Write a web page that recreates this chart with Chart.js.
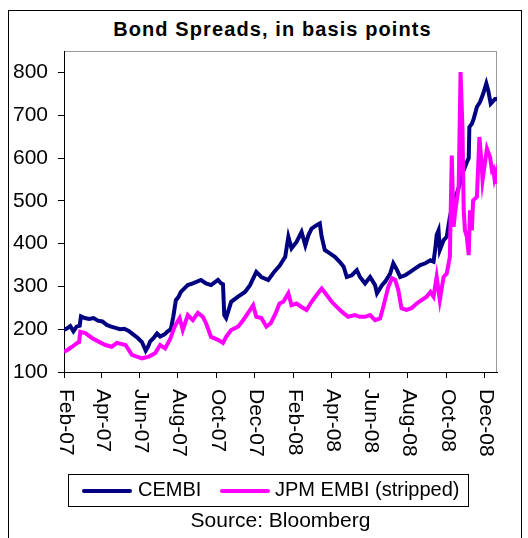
<!DOCTYPE html>
<html>
<head>
<meta charset="utf-8">
<title>Bond Spreads, in basis points</title>
<script src="https://cdn.jsdelivr.net/npm/chart.js@4.4.1/dist/chart.umd.min.js"></script>
<style>
  html, body { margin: 0; padding: 0; background: #fff; }
  body { width: 528px; height: 538px; position: relative; overflow: hidden;
         font-family: "Liberation Sans", Arial, sans-serif; color: #000; }
  #frame { position: absolute; left: 8px; top: 10px; width: 514px; height: 600px;
           border: 1px solid #000; box-sizing: border-box; }
  #chart { position: absolute; left: 0; top: 0; }
  .txt { position: absolute; white-space: nowrap; line-height: 1; }
  #title { left: 0; width: 545px; top: 19px; text-align: center; font-weight: bold;
           font-size: 20px; letter-spacing: 1.1px; }
  #legend { position: absolute; left: 68px; top: 474px; width: 401px; height: 33px;
            border: 1px solid #000; box-sizing: border-box; background: #fff; }
  .swatch { position: absolute; height: 4px; width: 50px; top: 14px; border-radius: 2px; }
  .legtxt { font-size: 20px; top: 4px; }
  #source { left: 0; width: 561px; top: 509px; text-align: center; font-size: 21px; }
</style>
</head>
<body>
<div id="frame"></div>
<div id="title" class="txt">Bond Spreads, in basis points</div>
<canvas id="chart" width="528" height="538"></canvas>
<div id="legend">
  <div class="swatch" style="left:13px;background:#000080"></div>
  <div class="txt legtxt" style="left:69px">CEMBI</div>
  <div class="swatch" style="left:151px;background:#ff00ff"></div>
  <div class="txt legtxt" style="left:206px">JPM EMBI (stripped)</div>
</div>
<div id="source" class="txt">Source: Bloomberg</div>

<script>
/* ================================
   DATA
================================ */
const seriesNames = ["CEMBI", "JPM EMBI (stripped)"];

const cembiDates = [
  "2007-02-01","2007-02-06","2007-02-11","2007-02-16","2007-02-21","2007-02-26","2007-02-28",
  "2007-03-06","2007-03-13","2007-03-20","2007-03-27","2007-04-03","2007-04-10","2007-04-17",
  "2007-04-24","2007-05-01","2007-05-08","2007-05-15","2007-05-22","2007-05-29","2007-06-05",
  "2007-06-11","2007-06-15","2007-06-18","2007-06-24","2007-06-29","2007-07-04","2007-07-11",
  "2007-07-16","2007-07-21","2007-07-25","2007-07-29","2007-08-02","2007-08-06","2007-08-12",
  "2007-08-17","2007-08-25","2007-09-07","2007-09-15","2007-09-23","2007-10-04","2007-10-09",
  "2007-10-12","2007-10-14","2007-10-17","2007-10-25","2007-11-05","2007-11-16","2007-11-24",
  "2007-12-04","2007-12-12","2007-12-23","2008-01-02","2008-01-10","2008-01-19","2008-01-24",
  "2008-01-29","2008-02-06","2008-02-14","2008-02-20","2008-02-25","2008-03-01","2008-03-09",
  "2008-03-14","2008-03-17","2008-03-22","2008-03-30","2008-04-07","2008-04-15","2008-04-21",
  "2008-04-26","2008-05-04","2008-05-12","2008-05-17","2008-05-25","2008-06-02","2008-06-10",
  "2008-06-13","2008-06-21","2008-06-26","2008-07-04","2008-07-09","2008-07-15","2008-07-20",
  "2008-07-28","2008-08-05","2008-08-13","2008-08-21","2008-08-29","2008-09-06","2008-09-11",
  "2008-09-14","2008-09-16","2008-09-19","2008-09-21","2008-09-27","2008-10-02","2008-10-07",
  "2008-10-13","2008-10-18","2008-10-23","2008-10-26","2008-10-29","2008-11-03","2008-11-06",
  "2008-11-07","2008-11-11","2008-11-14","2008-11-19","2008-11-24","2008-11-29","2008-12-04",
  "2008-12-07","2008-12-11","2008-12-18","2008-12-21"
];
const cembiValues = [
  198, 202, 207, 195, 206, 208, 230,
  226, 224, 226, 220, 218, 210, 206,
  203, 200, 201, 196, 188, 180, 170,
  150, 160, 171, 180, 190, 183, 188,
  195, 200, 230, 268, 275, 287, 296,
  303, 307, 315, 307, 303, 315, 307,
  305, 233, 226, 264, 276, 287, 303,
  334, 322, 315, 335, 348, 369, 416,
  389, 404, 427, 396, 420, 435, 443,
  447, 416, 385, 377, 369, 357, 346,
  322, 326, 338, 322, 307, 322, 303,
  284, 303, 311, 330, 354, 338, 322,
  326, 334, 342, 350, 354, 361, 358,
  390, 420, 431, 385, 408, 416, 462,
  501, 517, 540, 563, 571, 590, 600,
  672, 680, 692, 719, 731, 750, 774,
  758, 727, 738, 738
];

const embiDates = [
  "2007-02-01","2007-02-07","2007-02-14","2007-02-22","2007-02-25","2007-02-27","2007-03-07",
  "2007-03-18","2007-03-28","2007-04-08","2007-04-18","2007-04-26","2007-05-10","2007-05-20",
  "2007-06-05","2007-06-16","2007-06-26","2007-07-04","2007-07-12","2007-07-20","2007-07-27",
  "2007-08-04","2007-08-09","2007-08-17","2007-08-25","2007-09-02","2007-09-10","2007-09-15",
  "2007-09-23","2007-10-04","2007-10-12","2007-10-17","2007-10-25","2007-11-05","2007-11-13",
  "2007-11-21","2007-11-29","2007-12-04","2007-12-12","2007-12-20","2007-12-27","2008-01-04",
  "2008-01-10","2008-01-16","2008-01-24","2008-01-29","2008-02-06","2008-02-14","2008-02-22",
  "2008-03-01","2008-03-09","2008-03-17","2008-03-25","2008-04-02","2008-04-10","2008-04-18",
  "2008-04-28","2008-05-09","2008-05-17","2008-05-25","2008-06-02","2008-06-10","2008-06-18",
  "2008-06-23","2008-07-01","2008-07-07","2008-07-12","2008-07-17","2008-07-22","2008-07-30",
  "2008-08-07","2008-08-15","2008-08-23","2008-08-31","2008-09-06","2008-09-11","2008-09-16",
  "2008-09-21","2008-09-27","2008-10-02","2008-10-07","2008-10-10","2008-10-13","2008-10-15",
  "2008-10-21","2008-10-24","2008-10-27","2008-10-29","2008-10-31","2008-11-03","2008-11-06",
  "2008-11-08","2008-11-11","2008-11-13","2008-11-19","2008-11-23","2008-11-26","2008-11-28",
  "2008-12-05","2008-12-10","2008-12-13","2008-12-15","2008-12-17","2008-12-19","2008-12-21"
];
const embiValues = [
  147, 152, 159, 168, 170, 194, 191,
  179, 171, 163, 159, 168, 163, 140,
  132, 136, 144, 163, 155, 177, 206,
  226, 198, 233, 221, 238, 229, 214,
  182, 175, 168, 182, 198, 206, 221,
  238, 256, 229, 226, 206, 214, 238,
  260, 264, 284, 256, 260, 252, 245,
  264, 280, 295, 280, 264, 252, 241,
  229, 233, 229, 229, 233, 221, 225,
  252, 299, 319, 315, 291, 249, 245,
  249, 260, 268, 276, 287, 276, 322,
  268, 322, 330, 369, 606, 439, 470,
  532, 801, 672, 478, 431, 416, 373,
  478, 431, 501, 509, 649, 595, 548,
  622, 602, 571, 575, 552, 563, 540
];

const xTickDates = [
  "2007-02-01","2007-04-01","2007-06-01","2007-08-01","2007-10-01","2007-12-01",
  "2008-02-01","2008-04-01","2008-06-01","2008-08-01","2008-10-01","2008-12-01"
];
const xTickLabels = [
  "Feb-07","Apr-07","Jun-07","Aug-07","Oct-07","Dec-07",
  "Feb-08","Apr-08","Jun-08","Aug-08","Oct-08","Dec-08"
];
const yTicks = [100, 200, 300, 400, 500, 600, 700, 800];
const xStart = "2007-02-01";
const xEnd = "2008-12-21";

/* ================================
   HELPERS
================================ */
const DAY = 86400000;
const t0 = Date.parse(xStart);
const dayOf = s => (Date.parse(s) - t0) / DAY;
const toPoints = (dates, values) => dates.map((d, i) => ({ x: dayOf(d), y: values[i] }));

const FONT = '"Liberation Sans", Arial, sans-serif';

/* gray plot-area box (top/right), axes draw the black left/bottom */
const plotBox = {
    id: "plotBox",
    beforeDraw(chart) {
        const { ctx, chartArea: a } = chart;
        ctx.save();
        ctx.strokeStyle = "#999";
        ctx.lineWidth = 1;
        ctx.strokeRect(Math.round(a.left) + 0.5, Math.round(a.top) + 0.5,
                       Math.round(a.right - a.left) - 1, Math.round(a.bottom - a.top));
        ctx.restore();
    }
};

/* x tick labels read top-to-bottom, so they are drawn here */
const xLabels = {
    id: "xLabels",
    afterDraw(chart) {
        const { ctx } = chart;
        const xs = chart.scales.x;
        const top = chart.chartArea.bottom + 17;
        ctx.save();
        ctx.font = "21px " + FONT;
        ctx.fillStyle = "#000";
        ctx.textAlign = "left";
        ctx.textBaseline = "alphabetic";
        xTickDates.forEach((d, i) => {
            const x = xs.getPixelForValue(dayOf(d));
            ctx.save();
            ctx.translate(x, top);
            ctx.rotate(Math.PI / 2);
            ctx.fillText(xTickLabels[i], 0, 4.5);
            ctx.restore();
        });
        ctx.restore();
    }
};

/* ================================
   CHART
================================ */
new Chart(document.getElementById("chart"), {
    type: "line",
    data: {
        datasets: [
            {
                label: seriesNames[1],
                data: toPoints(embiDates, embiValues),
                borderColor: "#ff00ff",
                borderWidth: 4,
                pointRadius: 0,
                tension: 0,
                order: 0
            },
            {
                label: seriesNames[0],
                data: toPoints(cembiDates, cembiValues),
                borderColor: "#000080",
                borderWidth: 4,
                pointRadius: 0,
                tension: 0,
                order: 1
            }
        ]
    },
    options: {
        responsive: false,
        animation: false,
        devicePixelRatio: 1,
        layout: { padding: { top: 51, right: 31, left: 0, bottom: 0 } },
        plugins: {
            legend: { display: false },
            title: { display: false },
            tooltip: { enabled: false }
        },
        scales: {
            x: {
                type: "linear",
                min: dayOf(xStart),
                max: dayOf(xEnd),
                afterBuildTicks: axis => { axis.ticks = xTickDates.map(d => ({ value: dayOf(d) })); },
                afterFit: axis => { axis.height = 538 - 372; },
                ticks: { display: false },
                grid: { drawOnChartArea: false, drawTicks: true, tickLength: 6, color: "#000", lineWidth: 1 },
                border: { display: true, color: "#000", width: 1 }
            },
            y: {
                type: "linear",
                min: 100,
                max: 850,
                afterBuildTicks: axis => { axis.ticks = yTicks.map(v => ({ value: v })); },
                afterFit: axis => { axis.width = 64; },
                ticks: { color: "#000", padding: 10, font: { family: FONT, size: 21 } },
                grid: { drawOnChartArea: false, drawTicks: true, tickLength: 6, color: "#000", lineWidth: 1 },
                border: { display: true, color: "#000", width: 1 }
            }
        }
    },
    plugins: [plotBox, xLabels]
});
</script>
</body>
</html>
